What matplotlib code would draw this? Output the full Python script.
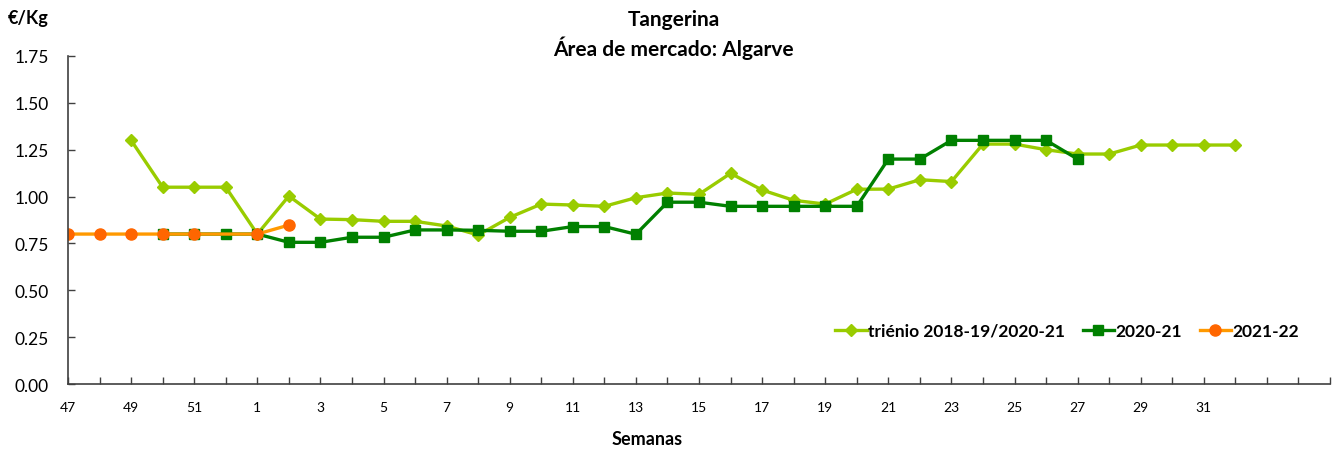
'''
Tangerina - preços semanais, área de mercado Algarve
'''
import numpy as np
import matplotlib.pyplot as plt

nan = np.nan

# semanas (47 a 52, depois 1 a 35); só as semanas até 32 têm rótulo
weeks = list(range(47, 53)) + list(range(1, 36))
week_labels = [str(w) for w in weeks[:37]] + [''] * (len(weeks) - 37)

# triénio 2018-19/2020-21
trienio = [nan, nan, 1.30, 1.05, 1.05, 1.05,
           0.80, 1.003, 0.88, 0.877, 0.868, 0.868, 0.843, 0.795, 0.889, 0.96,
           0.955, 0.948, 0.994, 1.019, 1.012, 1.124, 1.035, 0.98, 0.96, 1.039,
           1.04, 1.09, 1.08, 1.28, 1.28, 1.25, 1.227, 1.227, 1.275, 1.275,
           1.275, 1.275, nan, nan, nan]

# campanha 2020-21
c2020 = [nan, nan, nan, 0.80, 0.80, 0.80,
         0.80, 0.756, 0.756, 0.783, 0.783, 0.822, 0.822, 0.82, 0.815, 0.815,
         0.84, 0.84, 0.799, 0.97, 0.97, 0.948, 0.948, 0.948, 0.948, 0.948,
         1.20, 1.20, 1.30, 1.30, 1.30, 1.30, 1.20, nan, nan, nan,
         nan, nan, nan, nan, nan]

# campanha 2021-22
c2021 = [0.80, 0.80, 0.80, 0.80, 0.80, nan,
         0.80, 0.848] + [nan] * 33


def main():
    ''' desenha o gráfico '''
    plt.rcParams['font.family'] = ['Lato', 'DejaVu Sans']

    fig = plt.figure(figsize=(13.39, 4.52), dpi=100)
    ax = fig.add_axes([0.0508, 0.1482, 0.9425, 0.7257])

    x = np.arange(len(weeks))

    ax.plot(x, trienio, color='#99CC00', lw=2.4, marker='D', ms=6,
            mfc='#99CC00', mec='#99CC00', label='triénio 2018-19/2020-21')
    ax.plot(x, c2020, color='#008000', lw=2.4, marker='s', ms=7,
            mfc='#008000', mec='#008000', label='2020-21')
    # a linha 2021-22 tem um buraco na semana 52, liga-se por cima
    c2021_arr = np.array(c2021)
    ok = ~np.isnan(c2021_arr)
    ax.plot(x[ok], c2021_arr[ok], color='#FF9900', lw=2.4, marker='o', ms=8,
            mfc='#FF6600', mec='#FF6600', label='2021-22')

    ax.set_xlim(0, len(weeks) - 1)
    ax.set_ylim(0, 1.75)
    ax.set_yticks(np.arange(0, 1.76, 0.25))
    ax.set_yticklabels(['%.2f' % v for v in np.arange(0, 1.76, 0.25)],
                       fontsize=12.5)
    ax.set_xticks(x)
    ax.set_xticklabels([lab if i % 2 == 0 else '' for i, lab in enumerate(week_labels)],
                       fontsize=10)

    ax.tick_params(axis='both', direction='in', length=5, width=1, color='#404040')
    ax.tick_params(axis='x', pad=12)
    ax.tick_params(axis='y', pad=14)
    for side in ['top', 'right']:
        ax.spines[side].set_visible(False)
    for side in ['left', 'bottom']:
        ax.spines[side].set_color('#404040')
        ax.spines[side].set_linewidth(1.2)

    fig.text(0.503, 0.955, 'Tangerina', ha='center', va='center',
             fontsize=15, fontweight='bold')
    fig.text(0.503, 0.893, 'Área de mercado: Algarve', ha='center', va='center',
             fontsize=15, fontweight='bold')
    fig.text(0.006, 0.958, '€/Kg', ha='left', va='center',
             fontsize=13, fontweight='bold')
    fig.text(0.483, 0.027, 'Semanas', ha='center', va='center',
             fontsize=13, fontweight='bold')

    ax.legend(loc='lower right', bbox_to_anchor=(0.988, 0.09), ncol=3,
              frameon=False, prop={'size': 12.5, 'weight': 'bold'},
              handlelength=1.8, handletextpad=0.1, columnspacing=1.0)

    fig.savefig('out.png', dpi=100)
    return


if __name__ == '__main__':
    main()
